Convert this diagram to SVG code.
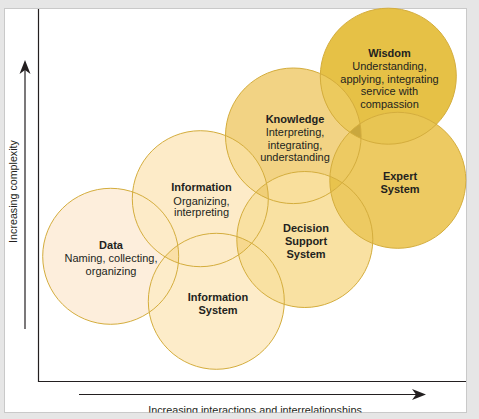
<svg xmlns="http://www.w3.org/2000/svg" xmlns:xlink="http://www.w3.org/1999/xlink" width="479" height="419" viewBox="0 0 479 419">
<style>
  text { font-family: "Liberation Sans", Arial, sans-serif; font-size: 11px; fill: #231f20; text-anchor: middle; }
  .b { font-weight: bold; }
  .ol { fill: none; stroke: #d4ad3d; stroke-width: 1; }
  .ax { stroke: #231f20; stroke-width: 1.2; fill: none; }
</style>
<defs>
  <circle id="cData" cx="110.7" cy="256.3" r="68"/>
  <circle id="cISys" cx="216.3" cy="301.3" r="68"/>
  <circle id="cInfo" cx="200.3" cy="198.7" r="68"/>
  <circle id="cKnow" cx="293.3" cy="135.8" r="67.8"/>
  <circle id="cDSS" cx="304.8" cy="239.5" r="68"/>
  <circle id="cExp" cx="397.8" cy="180.3" r="68"/>
  <circle id="cWis" cx="388.3" cy="76.2" r="68"/>
  <clipPath id="kData"><use xlink:href="#cData"/></clipPath>
  <clipPath id="kISys"><use xlink:href="#cISys"/></clipPath>
  <clipPath id="kInfo"><use xlink:href="#cInfo"/></clipPath>
  <clipPath id="kKnow"><use xlink:href="#cKnow"/></clipPath>
  <clipPath id="kDSS"><use xlink:href="#cDSS"/></clipPath>
  <clipPath id="kExp"><use xlink:href="#cExp"/></clipPath>
  <clipPath id="kWis"><use xlink:href="#cWis"/></clipPath>
  <clipPath id="panel"><rect x="4.5" y="8.5" width="462" height="404"/></clipPath>
</defs>

<rect x="0" y="0" width="479" height="419" fill="#e6e6e6"/>
<rect x="4.5" y="8.5" width="462" height="404" fill="#ffffff" stroke="#c9c9c9" stroke-width="1"/>

<g id="fills">
  <use xlink:href="#cData" fill="#fdeedc"/>
  <use xlink:href="#cISys" fill="#fdecc9"/>
  <use xlink:href="#cInfo" fill="#fdebc8"/>
  <use xlink:href="#cKnow" fill="#f2d384"/>
  <use xlink:href="#cDSS" fill="#f9e1a2"/>
  <use xlink:href="#cWis" fill="#e6c146"/>
  <use xlink:href="#cExp" fill="#edca62"/>
  <!-- pairwise overlaps -->
  <g clip-path="url(#kInfo)"><use xlink:href="#cKnow" fill="#f8de9d"/></g>
  <g clip-path="url(#kKnow)"><use xlink:href="#cDSS" fill="#f9df9c"/></g>
  <g clip-path="url(#kKnow)"><use xlink:href="#cWis" fill="#ecca5e"/></g>
  <g clip-path="url(#kWis)"><use xlink:href="#cExp" fill="#e8c553"/></g>
  <!-- triple overlaps -->
  <g clip-path="url(#kData)"><g clip-path="url(#kInfo)"><use xlink:href="#cISys" fill="#fadfa6"/></g></g>
  <g clip-path="url(#kInfo)"><g clip-path="url(#kISys)"><use xlink:href="#cDSS" fill="#f6d88e"/></g></g>
  <g clip-path="url(#kInfo)"><g clip-path="url(#kKnow)"><use xlink:href="#cDSS" fill="#f0cf78"/></g></g>
  <g clip-path="url(#kKnow)"><g clip-path="url(#kDSS)"><use xlink:href="#cExp" fill="#e8c34d"/></g></g>
  <g clip-path="url(#kKnow)"><g clip-path="url(#kWis)"><use xlink:href="#cExp" fill="#c9a73e"/></g></g>
</g>

<g id="data">
  <use xlink:href="#cData" class="ol"/>
  <text x="111" y="249" class="b">Data</text>
  <text x="111" y="261.5">Naming, collecting,</text>
  <text x="111" y="274.5">organizing</text>
</g>
<g id="information-system">
  <use xlink:href="#cISys" class="ol"/>
  <text x="218" y="300.5" class="b">Information</text>
  <text x="218" y="314" class="b">System</text>
</g>
<g id="information">
  <use xlink:href="#cInfo" class="ol"/>
  <text x="201.5" y="191" class="b">Information</text>
  <text x="201.5" y="204.5">Organizing,</text>
  <text x="201.5" y="216">interpreting</text>
</g>
<g id="knowledge">
  <use xlink:href="#cKnow" class="ol"/>
  <text x="295" y="123" class="b">Knowledge</text>
  <text x="295" y="136">Interpreting,</text>
  <text x="295" y="148.5">integrating,</text>
  <text x="295" y="160.5">understanding</text>
</g>
<g id="decision-support-system">
  <use xlink:href="#cDSS" class="ol"/>
  <text x="306" y="232" class="b">Decision</text>
  <text x="306" y="245" class="b">Support</text>
  <text x="306" y="258" class="b">System</text>
</g>
<g id="expert-system">
  <use xlink:href="#cExp" class="ol"/>
  <text x="400" y="180" class="b">Expert</text>
  <text x="400" y="193" class="b">System</text>
</g>
<g id="wisdom">
  <use xlink:href="#cWis" class="ol"/>
  <text x="389.5" y="57" class="b">Wisdom</text>
  <text x="389.5" y="70">Understanding,</text>
  <text x="389.5" y="82.5">applying, integrating</text>
  <text x="389.5" y="95">service with</text>
  <text x="389.5" y="108">compassion</text>
</g>

<g id="axes">
  <polyline class="ax" points="38.5,9 38.5,381.5 466,381.5"/>
  <line class="ax" x1="25" y1="329" x2="25" y2="68"/>
  <polygon points="25,60 30.5,74 25,70 19.5,74" fill="#231f20"/>
  <line class="ax" x1="79" y1="394.5" x2="418" y2="394.5"/>
  <polygon points="426,394.5 412,389 416,394.5 412,400" fill="#231f20"/>
  <text x="17" y="191.5" transform="rotate(-90 17 191.5)" style="font-size:10.7px">Increasing complexity</text>
  <g clip-path="url(#panel)">
    <text x="255" y="413.5" style="font-size:10.8px">Increasing interactions and interrelationships</text>
  </g>
</g>
</svg>
